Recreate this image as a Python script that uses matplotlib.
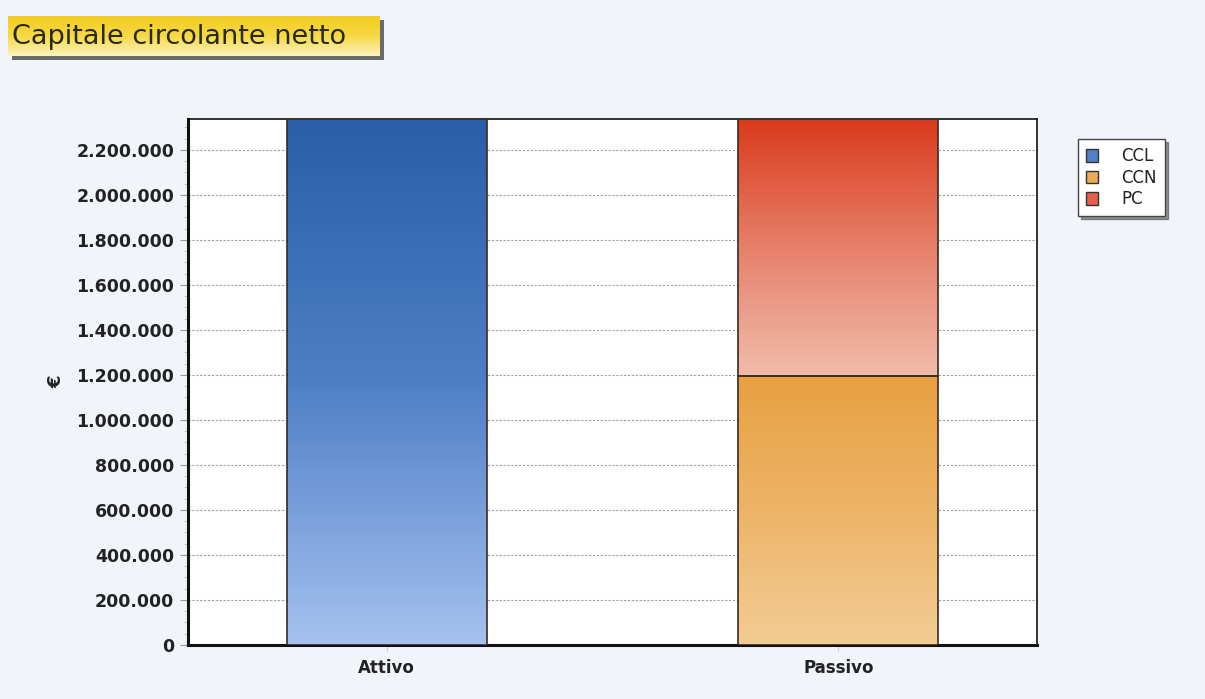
import numpy as np
import matplotlib
matplotlib.use('Agg')
import matplotlib.pyplot as plt
from matplotlib.colors import LinearSegmentedColormap
from matplotlib.patches import Rectangle
from matplotlib.ticker import MultipleLocator, FuncFormatter

# Data -----------------------------------------------------------------------------------------------------------------
categories = ['Attivo', 'Passivo']
ccl = [2337000, 0]
ccn = [0, 1197000]
pc = [0, 1140000]
series_names = ['CCL', 'CCN', 'PC']

# Gradient colours (top, mid, bottom) per series
grad = {'CCL': ('#2a5ea8', '#4e7fc6', '#a6c1ef'),
        'CCN': ('#e8a040', '#edb468', '#f3cc95'),
        'PC': ('#da3a1c', '#e6806a', '#f1bcab')}
legend_col = {'CCL': '#4f80c8', 'CCN': '#eeaa55', 'PC': '#e8604a'}

fig = plt.figure(figsize=(12.05, 6.99), dpi=100)
fig.patch.set_facecolor('#f1f5f9')

ax = fig.add_axes([0.156, 0.0773, 0.7046, 0.7525])
ax.set_facecolor('white')
x = np.arange(len(categories))
width = 0.4425
ymax = max(ccl[0], ccn[1] + pc[1])

def gradient_bar(xc, bottom, height, name):
    if height <= 0:
        return
    top_c, mid_c, bot_c = grad[name]
    cmap = LinearSegmentedColormap.from_list(name, [bot_c, mid_c, top_c])
    rect = ax.bar(xc, height, width, bottom=bottom, color='none', edgecolor='#3a2a20', linewidth=1.2, zorder=4)[0]
    g = np.linspace(0, 1, 256).reshape(-1, 1)
    im = ax.imshow(g, cmap=cmap, origin='lower', aspect='auto', zorder=3,
                   extent=[xc - width / 2, xc + width / 2, bottom, bottom + height])
    im.set_clip_path(rect)

for i in x:
    gradient_bar(i, 0, ccl[i], 'CCL')
    gradient_bar(i, 0, ccn[i], 'CCN')
    gradient_bar(i, ccn[i], pc[i], 'PC')

ax.set_xlim(-0.44, 1.44)
ax.set_ylim(0, ymax)
ax.set_xticks(x)
ax.set_xticklabels(categories, fontsize=12, fontweight='bold', color='#222222')
ax.yaxis.set_major_locator(MultipleLocator(200000))
ax.yaxis.set_minor_locator(MultipleLocator(50000))
ax.yaxis.set_major_formatter(FuncFormatter(lambda v, p: f'{int(v):,}'.replace(',', '.')))
for lab in ax.get_yticklabels():
    lab.set_fontweight('bold')
ax.tick_params(axis='y', which='major', labelsize=12.5, labelcolor='#222222', length=6, color='#999999', pad=4)
ax.tick_params(axis='y', which='minor', length=3, color='#bbbbbb')
ax.tick_params(axis='x', length=4, color='#cccccc', pad=6)
ax.grid(axis='y', which='major', linestyle=(0, (2, 1.5)), color='#a0a0a0', linewidth=0.8, zorder=1)
ax.set_axisbelow(True)
for s in ['left', 'bottom']:
    ax.spines[s].set_linewidth(2.2)
    ax.spines[s].set_color('#111111')
for s in ['top', 'right']:
    ax.spines[s].set_linewidth(1.2)
    ax.spines[s].set_color('#111111')
ax.set_ylabel('€', fontsize=13, fontweight='bold', color='#222222', labelpad=8)

# Title box with yellow gradient and shadow ----------------------------------------------------------------------------
sax = fig.add_axes([12 / 1205, 1 - 60 / 699, 372 / 1205, 40 / 699])
sax.add_patch(Rectangle((0, 0), 1, 1, facecolor='#6a6a6a', edgecolor='none'))
sax.axis('off')
tax = fig.add_axes([8 / 1205, 1 - 56 / 699, 372 / 1205, 40 / 699])
tax.set_zorder(sax.get_zorder() + 1)
tcmap = LinearSegmentedColormap.from_list('ttl', ['#fbf3c0', '#f6d944', '#f4cc22'])
tax.imshow(np.linspace(0, 1, 64).reshape(-1, 1), cmap=tcmap, origin='lower', aspect='auto', extent=[0, 1, 0, 1])
tax.set_xlim(0, 1)
tax.set_ylim(0, 1)
tax.axis('off')
tax.text(0.01, 0.47, 'Capitale circolante netto', fontsize=19.5, color='#2a2a1a', va='center', ha='left')

# Legend ---------------------------------------------------------------------------------------------------------------
handles = [Rectangle((0, 0), 1, 1, facecolor=legend_col[n], edgecolor='#333333', linewidth=1) for n in series_names]
leg = fig.legend(handles, series_names, loc='upper left', bbox_to_anchor=(1078 / 1205, 1 - 139 / 699),
                 fontsize=12, frameon=True, fancybox=False, shadow={'color': '#333333'}, edgecolor='#444444',
                 handlelength=0.7, handleheight=0.8, handletextpad=1.4, labelspacing=0.2,
                 borderpad=0.5, borderaxespad=0)
leg.get_frame().set_linewidth(1.0)
for t in leg.get_texts():
    t.set_color('#222222')

fig.savefig('out.png', dpi=100, facecolor=fig.get_facecolor())
